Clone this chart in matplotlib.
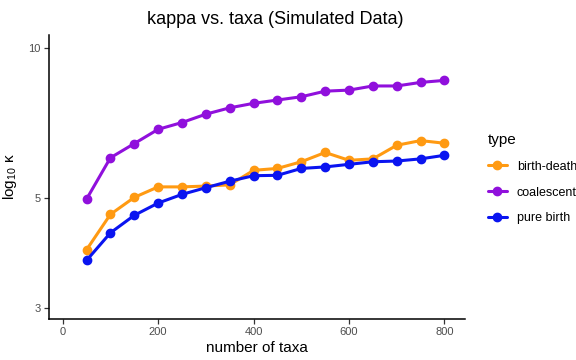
import numpy as np
import matplotlib
matplotlib.use("Agg")
import matplotlib.pyplot as plt
from matplotlib.ticker import FixedLocator, NullLocator, FixedFormatter

plt.rcParams['font.family'] = ['Liberation Sans', 'DejaVu Sans']
plt.rcParams['mathtext.fontset'] = 'custom'
plt.rcParams['mathtext.rm'] = 'Liberation Sans'
plt.rcParams['mathtext.it'] = 'Liberation Sans:italic'

# data
taxa = [50, 100, 150, 200, 250, 300, 350, 400, 450, 500, 550, 600, 650, 700, 750, 800]
birth_death = [3.93, 4.63, 5.01, 5.26, 5.26, 5.28, 5.31, 5.68, 5.73, 5.91, 6.17, 5.95, 5.99, 6.38, 6.52, 6.44]
coalescent = [4.97, 6.02, 6.43, 6.87, 7.09, 7.37, 7.59, 7.75, 7.87, 7.99, 8.20, 8.24, 8.40, 8.40, 8.54, 8.62]
pure_birth = [3.74, 4.25, 4.61, 4.88, 5.08, 5.24, 5.40, 5.54, 5.55, 5.73, 5.77, 5.84, 5.91, 5.93, 5.99, 6.09]
series_names = ["birth-death", "coalescent", "pure birth"]
colors = ["#FF9A12", "#9010DC", "#0A14F0"]
y_ticks = [3, 5, 10]
x_ticks = [0, 200, 400, 600, 800]

fig = plt.figure(figsize=(5.76, 3.6), dpi=100)
ax = fig.add_axes([49/576, 1-319/360, (465-49)/576, (319-35)/360])

for vals, name, col in zip([birth_death, coalescent, pure_birth], series_names, colors):
    ax.plot(taxa, vals, color=col, lw=2.2, marker="o", ms=6, label=name,
            solid_capstyle="round")

ax.set_yscale("log")
ax.set_ylim(2.85, 10.64)
ax.set_xlim(-28.7, 843)
ax.yaxis.set_major_locator(FixedLocator(y_ticks))
ax.yaxis.set_major_formatter(FixedFormatter([str(t) for t in y_ticks]))
ax.yaxis.set_minor_locator(NullLocator())
ax.set_xticks(x_ticks)

for s in ["top", "right"]:
    ax.spines[s].set_visible(False)
for s in ["left", "bottom"]:
    ax.spines[s].set_linewidth(1.1)
    ax.spines[s].set_color("black")
ax.tick_params(axis="both", length=3.5, width=0.9, color="#333333",
               labelcolor="#4d4d4d", labelsize=8, pad=2.5)

ax.set_xlabel("number of taxa", fontsize=11, labelpad=3)
ax.set_ylabel("log$_{10}$ κ", fontsize=11, labelpad=7)
fig.text(275/576, 1-19/360, "kappa vs. taxa (Simulated Data)", fontsize=13,
         ha="center", va="center")

leg = fig.legend(loc="upper left", bbox_to_anchor=(488/576, 1-133/360),
                 frameon=False, title="type", fontsize=9, title_fontsize=11,
                 handlelength=1.5, handletextpad=0.8, labelspacing=1.1,
                 alignment="left", borderaxespad=0, borderpad=0)

fig.savefig("out.png", dpi=100)
